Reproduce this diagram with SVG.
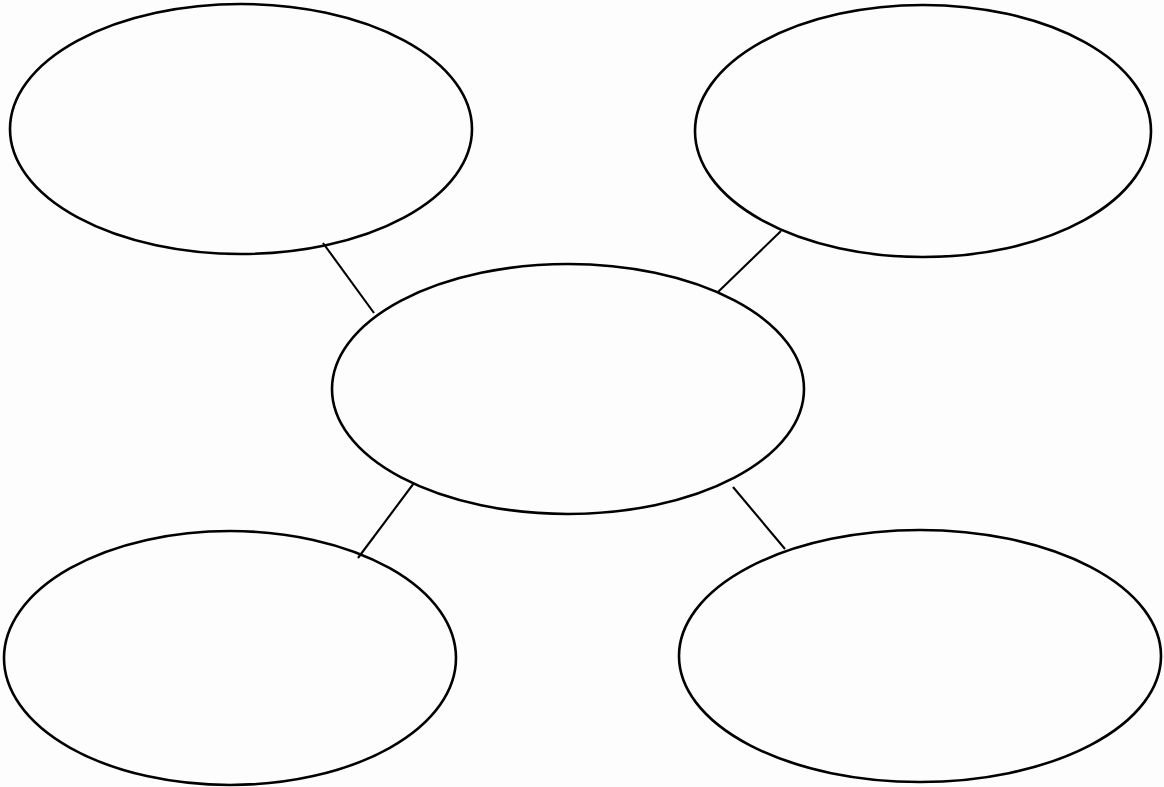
<svg xmlns="http://www.w3.org/2000/svg" width="1164" height="787" viewBox="0 0 1164 787">
<style>
.node{fill:none;stroke:#000;stroke-width:2.6}
.conn{stroke:#000;stroke-width:2.1;fill:none}
</style>
<rect width="1164" height="787" fill="#fdfdfd"/>
<g id="connectors">
<line class="conn" x1="323" y1="243" x2="374" y2="313"/>
<line class="conn" x1="781" y1="231" x2="718" y2="292"/>
<line class="conn" x1="414" y1="483" x2="358" y2="558"/>
<line class="conn" x1="733" y1="487" x2="785" y2="549"/>
</g>
<g id="node-top-left"><ellipse class="node" cx="241" cy="129" rx="231" ry="125"/></g>
<g id="node-top-right"><ellipse class="node" cx="923" cy="131" rx="228" ry="126"/></g>
<g id="node-center"><ellipse class="node" cx="568" cy="389" rx="236" ry="125"/></g>
<g id="node-bottom-left"><ellipse class="node" cx="230" cy="658" rx="226" ry="127"/></g>
<g id="node-bottom-right"><ellipse class="node" cx="920" cy="656" rx="241" ry="126"/></g>
</svg>
